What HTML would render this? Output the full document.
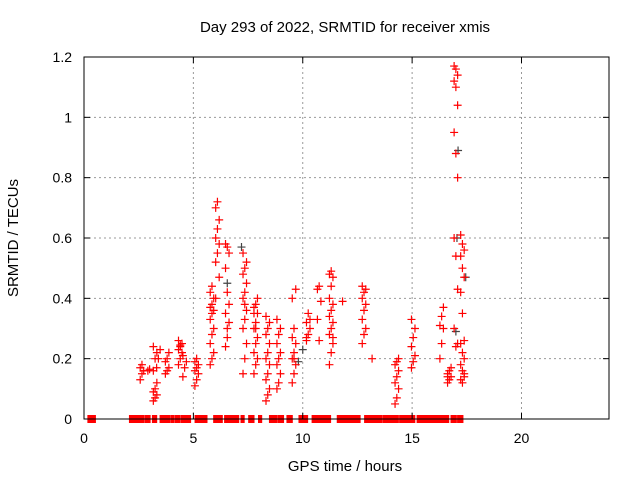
<!DOCTYPE html>
<html><head><meta charset="utf-8"><style>
body{margin:0;background:#fff}
svg{display:block;font-family:"Liberation Sans",sans-serif}
</style></head><body>
<svg id="chart" width="640" height="480">
<rect width="640" height="480" fill="#fff"/>
<g id="grid"></g>
<g id="marks"></g>
<rect x="84" y="57" width="525" height="362" fill="none" stroke="#000" stroke-width="1"/>
<g id="axes"></g>
<text x="345" y="32" text-anchor="middle" font-size="15">Day 293 of 2022, SRMTID for receiver xmis</text>
<text x="345" y="471" text-anchor="middle" font-size="15">GPS time / hours</text>
<text x="18" y="238" text-anchor="middle" font-size="15" transform="rotate(-90 18 238)">SRMTID / TECUs</text>
</svg>
<script>
const xTicks=[0,5,10,15,20];
const yTicks=[0,0.2,0.4,0.6,0.8,1,1.2];
const yTickLabels=["0","0.2","0.4","0.6","0.8","1","1.2"];
const clusterHours=[2.65,3.0,3.25,3.4,3.8,4.4,4.6,5.15,5.85,6.1,6.55,7.35,7.85,8.4,8.9,9.6,10.25,10.75,11.3,11.9,12.8,13.25,14.3,15.05,16.35,16.7,17.0,17.3];
const clusterValues=[
[0.13,0.15,0.16,0.17,0.18],
[0.16,0.165],
[0.06,0.07,0.08,0.09,0.1,0.12,0.16,0.2,0.22,0.24],
[0.17,0.2,0.23],
[0.15,0.16,0.17,0.19,0.2,0.22],
[0.18,0.2,0.22,0.23,0.24,0.25,0.26,0.245],
[0.14,0.17,0.19,0.21],
[0.11,0.13,0.15,0.16,0.17,0.18,0.19,0.2],
[0.18,0.2,0.22,0.25,0.28,0.3,0.33,0.35,0.36,0.37,0.38,0.4,0.42,0.44],
[0.52,0.55,0.58,0.6,0.63,0.66,0.7,0.72,0.47,0.4],
[0.58,0.57,0.55,0.5,0.42,0.38,0.35,0.3,0.32,0.24,0.27],
[0.15,0.2,0.25,0.3,0.33,0.36,0.4,0.42,0.45,0.48,0.5,0.52,0.55,0.38],
[0.15,0.18,0.2,0.22,0.25,0.27,0.3,0.32,0.35,0.37,0.38,0.4,0.35,0.3],
[0.06,0.08,0.1,0.13,0.15,0.18,0.2,0.22,0.25,0.28,0.3,0.32,0.34],
[0.1,0.12,0.15,0.18,0.2,0.22,0.25,0.28,0.3,0.33],
[0.12,0.15,0.18,0.2,0.22,0.25,0.27,0.3,0.43,0.4,0.2],
[0.26,0.28,0.3,0.32,0.35,0.33,0.27],
[0.43,0.44,0.39,0.33,0.26],
[0.18,0.22,0.25,0.28,0.3,0.32,0.34,0.36,0.38,0.4,0.44,0.47,0.48,0.49,0.27],
[0.39],
[0.25,0.28,0.3,0.33,0.36,0.38,0.4,0.42,0.43,0.44],
[0.2],
[0.05,0.07,0.1,0.12,0.14,0.16,0.18,0.19,0.2],
[0.17,0.19,0.21,0.24,0.27,0.3,0.33],
[0.2,0.25,0.3,0.31,0.34,0.37],
[0.12,0.13,0.14,0.15,0.16,0.17,0.14],
[1.17,1.16,1.14,1.12,1.1,1.04,0.95,0.88,0.8,0.6,0.54,0.43,0.3,0.24,0.25],
[0.61,0.58,0.56,0.54,0.5,0.47,0.42,0.35,0.26,0.25,0.22,0.2,0.18,0.16,0.14,0.13,0.12,0.15]
];
const zeroStarts=[0.2,2.1,2.8,3.15,3.5,4.0,4.2,4.45,5.1,5.95,6.45,6.95,7.2,7.55,8.0,8.5,8.9,9.3,9.85,10.45,11.6,12.85,13.7,13.85,14.45,15.25,16.45,16.8,17.1];
const zeroEnds=[0.5,2.7,3.0,3.3,3.9,4.1,4.35,4.85,5.6,6.3,7.0,7.05,7.3,7.75,8.1,8.8,9.1,9.5,10.2,11.25,12.6,13.6,13.8,14.35,15.1,16.4,16.65,17.0,17.3];
const grayHours=[7.2,6.55,17.05,17.1,17.0,17.45,10.0,9.8];
const grayValues=[0.57,0.45,0.6,0.89,0.29,0.47,0.23,0.19];

const NS="http://www.w3.org/2000/svg";
const X0=84,X1=609,Y0=419,Y1=57;
const xs=h=>X0+h*(X1-X0)/24;
const ys=v=>Y0-v*(Y0-Y1)/1.2;
const grid=document.getElementById('grid'),axes=document.getElementById('axes'),marks=document.getElementById('marks');
function mk(tag,attrs,parent){const e=document.createElementNS(NS,tag);for(const k in attrs)e.setAttribute(k,attrs[k]);parent.appendChild(e);return e;}
yTicks.forEach((v,i)=>{
  const y=ys(v);
  if(i>0&&i<yTicks.length-1){const g=mk('line',{x1:X0,x2:X1,y1:y,y2:y,stroke:'#999','stroke-dasharray':'2,3'},grid);
  
  }
  mk('line',{x1:X0,x2:X0+6,y1:y,y2:y,stroke:'#000'},axes);
  mk('line',{x1:X1,x2:X1-6,y1:y,y2:y,stroke:'#000'},axes);
  const t=mk('text',{x:X0-12,y:y+5,'text-anchor':'end','font-size':14},axes);
  t.textContent=yTickLabels[i];
  
  
});
xTicks.forEach(h=>{
  const x=xs(h);
  if(h>0){const g=mk('line',{x1:x,x2:x,y1:Y0,y2:Y1,stroke:'#999','stroke-dasharray':'2,3'},grid);
  
  }
  mk('line',{x1:x,x2:x,y1:Y0,y2:Y0-6,stroke:'#000'},axes);
  mk('line',{x1:x,x2:x,y1:Y1,y2:Y1+6,stroke:'#000'},axes);
  const t=mk('text',{x:x,y:Y0+24,'text-anchor':'middle','font-size':14},axes);
  t.textContent=String(h);
  
  
});
function plus(h,v,color){
  const x=xs(h),y=ys(v);
  const p=mk('path',{d:`M${x-4},${y}H${x+4}M${x},${y-4}V${y+4}`,stroke:color,'stroke-width':1.2,fill:'none'},marks);
  
  
}
grayHours.forEach((h,i)=>plus(h,grayValues[i],'#444'));
clusterHours.forEach((h,i)=>clusterValues[i].forEach((v,j)=>plus(h+((j%3)-1)*0.08,v,'#f00')));
zeroStarts.forEach((s,i)=>{
  const r=mk('rect',{x:xs(s)-1,y:ys(0)-4,width:xs(zeroEnds[i])-xs(s)+2,height:8,fill:'#f00'},marks);
  
  
});
</script>
</body></html>
